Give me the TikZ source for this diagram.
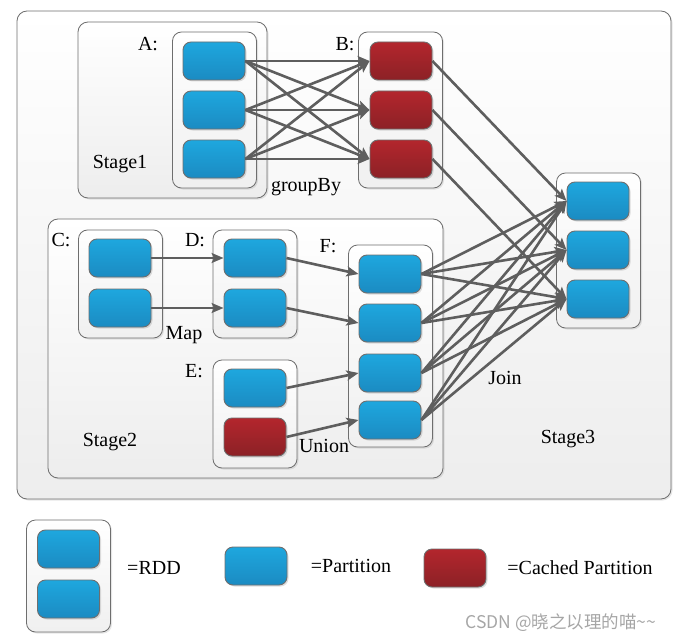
\documentclass[tikz,border=0pt]{standalone}
\usepackage{fontspec}
\setmainfont{Liberation Serif}
\newfontfamily\cjk{Noto Sans CJK SC}
\usetikzlibrary{arrows.meta,shadows}
\definecolor{partblue}{HTML}{1EA7DE}
\definecolor{partbluedark}{HTML}{1B8BC2}
\definecolor{partred}{HTML}{B3262D}
\definecolor{partreddark}{HTML}{8C2126}
\definecolor{edgegray}{HTML}{5E5E5E}
\definecolor{framegray}{HTML}{6E6E6E}
\definecolor{markgray}{HTML}{A6A6A6}
\begin{document}
\begin{tikzpicture}[x=1pt, y=-1pt]
		\tikzset{part/.style={rectangle, rounded corners=8pt, draw=framegray, line width=0.9pt, top color=partblue, bottom color=partbluedark, minimum width=62pt, minimum height=38pt, drop shadow={shadow xshift=1.5pt, shadow yshift=-1.5pt, opacity=0.25}}};
		\tikzset{cached/.style={part, top color=partred, bottom color=partreddark}};
		\tikzset{rdd/.style={rectangle, rounded corners=9pt, draw=framegray, line width=0.8pt, top color=white, bottom color=black!6, minimum width=84pt, drop shadow={shadow xshift=1.5pt, shadow yshift=-1.5pt, opacity=0.2}}};
		\tikzset{stagebox/.style={rectangle, rounded corners=10pt, draw=framegray, line width=0.8pt, top color=white, bottom color=black!7, drop shadow={shadow xshift=1.5pt, shadow yshift=-1.5pt, opacity=0.2}}};
		\tikzset{lbl/.style={inner sep=0pt, font=\fontsize{20}{24}\selectfont}};
		\tikzset{edge/.style={draw=edgegray, line width=2.6pt, -{Stealth[length=12pt, width=10pt, inset=2.5pt]}}};

		\useasboundingbox (0,0) rectangle (683,642);

		% frames
		\node[stagebox, minimum width=654pt, minimum height=488pt] (all) at (344,255) {};
		\node[stagebox, minimum width=189pt, minimum height=176pt] (stage1) at (172.5,110) {};
		\node[stagebox, minimum width=395pt, minimum height=259pt] (stage2) at (245.5,348.5) {};

		% rdds
		\node[rdd, minimum height=156pt] (rddA) at (214.5,110) {};
		\node[rdd, minimum height=156pt] (rddB) at (400.5,110) {};
		\node[rdd, minimum height=155pt] (rddJ) at (598.5,250.5) {};
		\node[rdd, minimum height=108pt] (rddC) at (120.5,284) {};
		\node[rdd, minimum height=108pt] (rddD) at (255,284) {};
		\node[rdd, minimum height=108pt] (rddE) at (255,414) {};
		\node[rdd, minimum height=202pt] (rddF) at (390.5,346) {};
		\node[rdd, minimum height=112pt] (rddKey) at (68.5,576) {};

		% partitions
		\node[part] (a1) at (214,61) {};
		\node[part] (a2) at (214,110) {};
		\node[part] (a3) at (214,159) {};
		\node[cached] (b1) at (401,61) {};
		\node[cached] (b2) at (401,110) {};
		\node[cached] (b3) at (401,159) {};
		\node[part] (j1) at (598,201) {};
		\node[part] (j2) at (598,250) {};
		\node[part] (j3) at (598,299) {};
		\node[part] (c1) at (120,258) {};
		\node[part] (c2) at (120,308) {};
		\node[part] (d1) at (255,258) {};
		\node[part] (d2) at (255,308) {};
		\node[part] (e1) at (255,388) {};
		\node[cached] (e2) at (255,437) {};
		\node[part] (f1) at (390,274) {};
		\node[part] (f2) at (390,323) {};
		\node[part] (f3) at (390,373) {};
		\node[part] (f4) at (390,420) {};

		% key
		\node[part] (key1) at (68.5,549) {};
		\node[part] (key2) at (68.5,599) {};
		\node[part] (keypart) at (256,566) {};
		\node[cached] (keycached) at (455,568) {};

		% labels
		\node[lbl] (labA) at (148,44) {A:};
		\node[lbl] (labB) at (345,44) {B:};
		\node[lbl] (labC) at (61,240) {C:};
		\node[lbl] (labD) at (195,240) {D:};
		\node[lbl] (labE) at (194,371) {E:};
		\node[lbl] (labF) at (328,246) {F:};
		\node[lbl] (labStage1) at (120,164) {Stage1};
		\node[lbl] (labStage2) at (110,442) {Stage2};
		\node[lbl] (labStage3) at (568,439) {Stage3};
		\node[lbl] (labGroup) at (306,187) {groupBy};
		\node[lbl] (labMap) at (184,335) {Map};
		\node[lbl] (labUnion) at (324,446) {Union};
		\node[lbl] (labJoin) at (505,378) {Join};
		\node[lbl] (labRdd) at (154,568) {=RDD};
		\node[lbl] (labPart) at (351,566) {=Partition};
		\node[lbl] (labCached) at (580,568) {=Cached Partition};
		\node[inner sep=0pt, text=markgray, font=\cjk\fontsize{17.5}{21}\selectfont] (mark) at (561,623) {CSDN @晓之以理的喵\textasciitilde\textasciitilde};

		% groupBy
		\draw[edge] (a1.east) to (b1.west);
		\draw[edge] (a1.east) to (b2.west);
		\draw[edge] (a1.east) to (b3.west);

		\draw[edge] (a2.east) to (b1.west);
		\draw[edge] (a2.east) to (b2.west);
		\draw[edge] (a2.east) to (b3.west);

		\draw[edge] (a3.east) to (b1.west);
		\draw[edge] (a3.east) to (b2.west);
		\draw[edge] (a3.east) to (b3.west);

		% map
		\draw[edge] (c1.east) to (d1.west);
		\draw[edge] (c2.east) to (d2.west);

		% union
		\draw[edge] (d1.east) to (f1.west);
		\draw[edge] (d2.east) to (f2.west);
		\draw[edge] (e1.east) to (f3.west);
		\draw[edge] (e2.east) to (f4.west);

		% join
		\draw[edge] (b1.east) to (j1.west);
		\draw[edge] (b2.east) to (j2.west);
		\draw[edge] (b3.east) to (j3.west);

		\draw[edge] (f1.east) to (j1.west);
		\draw[edge] (f1.east) to (j2.west);
		\draw[edge] (f1.east) to (j3.west);

		\draw[edge] (f2.east) to (j1.west);
		\draw[edge] (f2.east) to (j2.west);
		\draw[edge] (f2.east) to (j3.west);

		\draw[edge] (f3.east) to (j1.west);
		\draw[edge] (f3.east) to (j2.west);
		\draw[edge] (f3.east) to (j3.west);

		\draw[edge] (f4.east) to (j1.west);
		\draw[edge] (f4.east) to (j2.west);
		\draw[edge] (f4.east) to (j3.west);
	\end{tikzpicture}
\end{document}
